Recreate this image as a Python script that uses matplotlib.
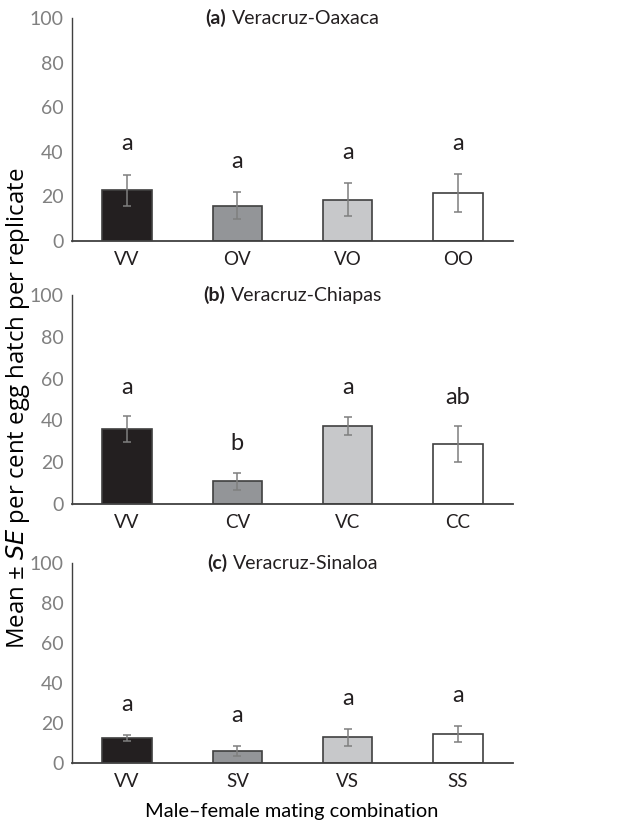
import numpy as np
import matplotlib.pyplot as plt
from matplotlib.offsetbox import TextArea, HPacker, AnchoredOffsetbox

# panel data
titles = ['(a)', '(b)', '(c)']
regions = ['Veracruz-Oaxaca', 'Veracruz-Chiapas', 'Veracruz-Sinaloa']
labels_a = ['VV', 'OV', 'VO', 'OO']
labels_b = ['VV', 'CV', 'VC', 'CC']
labels_c = ['VV', 'SV', 'VS', 'SS']
means_a = [22.7, 15.8, 18.5, 21.7]
means_b = [35.7, 10.8, 37.3, 28.6]
means_c = [12.5, 6.0, 12.8, 14.5]
se_a = [7.1, 6.0, 7.3, 8.5]
se_b = [6.2, 3.9, 4.4, 8.5]
se_c = [1.3, 2.5, 4.3, 4.0]
letters_a = ['a', 'a', 'a', 'a']
letters_b = ['a', 'b', 'a', 'ab']
letters_c = ['a', 'a', 'a', 'a']

bar_colors = ['#231f20', '#939598', '#c7c8ca', '#ffffff']
W, H = 640, 833
# (top, bottom) of each panel in pixels
panel_px = [(18, 241), (295, 504), (563, 763)]
letter_gap = [9, 9, 10]

fig = plt.figure(figsize=(W / 100, H / 100), dpi=100)
font = 'Lato'

panels = [(labels_a, means_a, se_a, letters_a),
          (labels_b, means_b, se_b, letters_b),
          (labels_c, means_c, se_c, letters_c)]

for i, (labs, m, se, lets) in enumerate(panels):
    top, bot = panel_px[i]
    ax = fig.add_axes([72 / W, (H - bot) / H, (513 - 72) / W, (bot - top) / H])
    x = np.arange(len(labs))
    ax.bar(x, m, width=0.45, color=bar_colors, edgecolor='#404040', linewidth=1.2, zorder=2)
    ax.errorbar(x, m, yerr=se, fmt='none', ecolor='#7f7f7f', elinewidth=1.1,
                capsize=3, capthick=1.1, zorder=3)
    for xi, mi, si, lt in zip(x, m, se, lets):
        ax.text(xi, mi + si + letter_gap[i], lt, ha='center', va='bottom',
                fontsize=17, family=font, color='#231f20')
    ax.set_xlim(-0.5, 3.5)
    ax.set_ylim(0, 100)
    ax.set_yticks([0, 20, 40, 60, 80, 100])
    ax.set_xticks(x)
    ax.set_xticklabels(labs, fontsize=13.5, family=font, color='#231f20')
    for t in ax.get_yticklabels():
        t.set_family(font)
        t.set_fontsize(14)
        t.set_color('#808080')
    ax.tick_params(axis='y', length=0, pad=6)
    ax.tick_params(axis='x', length=0, pad=7)
    for s in ['top', 'right']:
        ax.spines[s].set_visible(False)
    ax.spines['left'].set_color('#404040')
    ax.spines['bottom'].set_color('#404040')
    ax.spines['left'].set_linewidth(1.0)
    ax.spines['bottom'].set_linewidth(1.3)

    # panel title: bold letter + plain region, centred together
    t1 = TextArea(titles[i], textprops=dict(fontsize=14, fontweight='bold', family=font, color='#231f20'))
    t2 = TextArea(regions[i], textprops=dict(fontsize=14, family=font, color='#231f20'))
    box = HPacker(children=[t1, t2], align='baseline', pad=0, sep=4)
    anc = AnchoredOffsetbox(loc='center', child=box, pad=0, frameon=False,
                            bbox_to_anchor=(0.5, 1.0), bbox_transform=ax.transAxes, borderpad=0)
    ax.add_artist(anc)

fig.text(18 / W, 1 - 408 / H, 'Mean \u00b1 $\\it{SE}$ per cent egg hatch per replicate',
         rotation=90, ha='center', va='center', fontsize=17.3, family='Open Sans')
fig.text(292 / W, 1 - 812 / H, 'Male\u2013female mating combination',
         ha='center', va='center', fontsize=14.4, family=font)

fig.savefig('out.png', dpi=100)
